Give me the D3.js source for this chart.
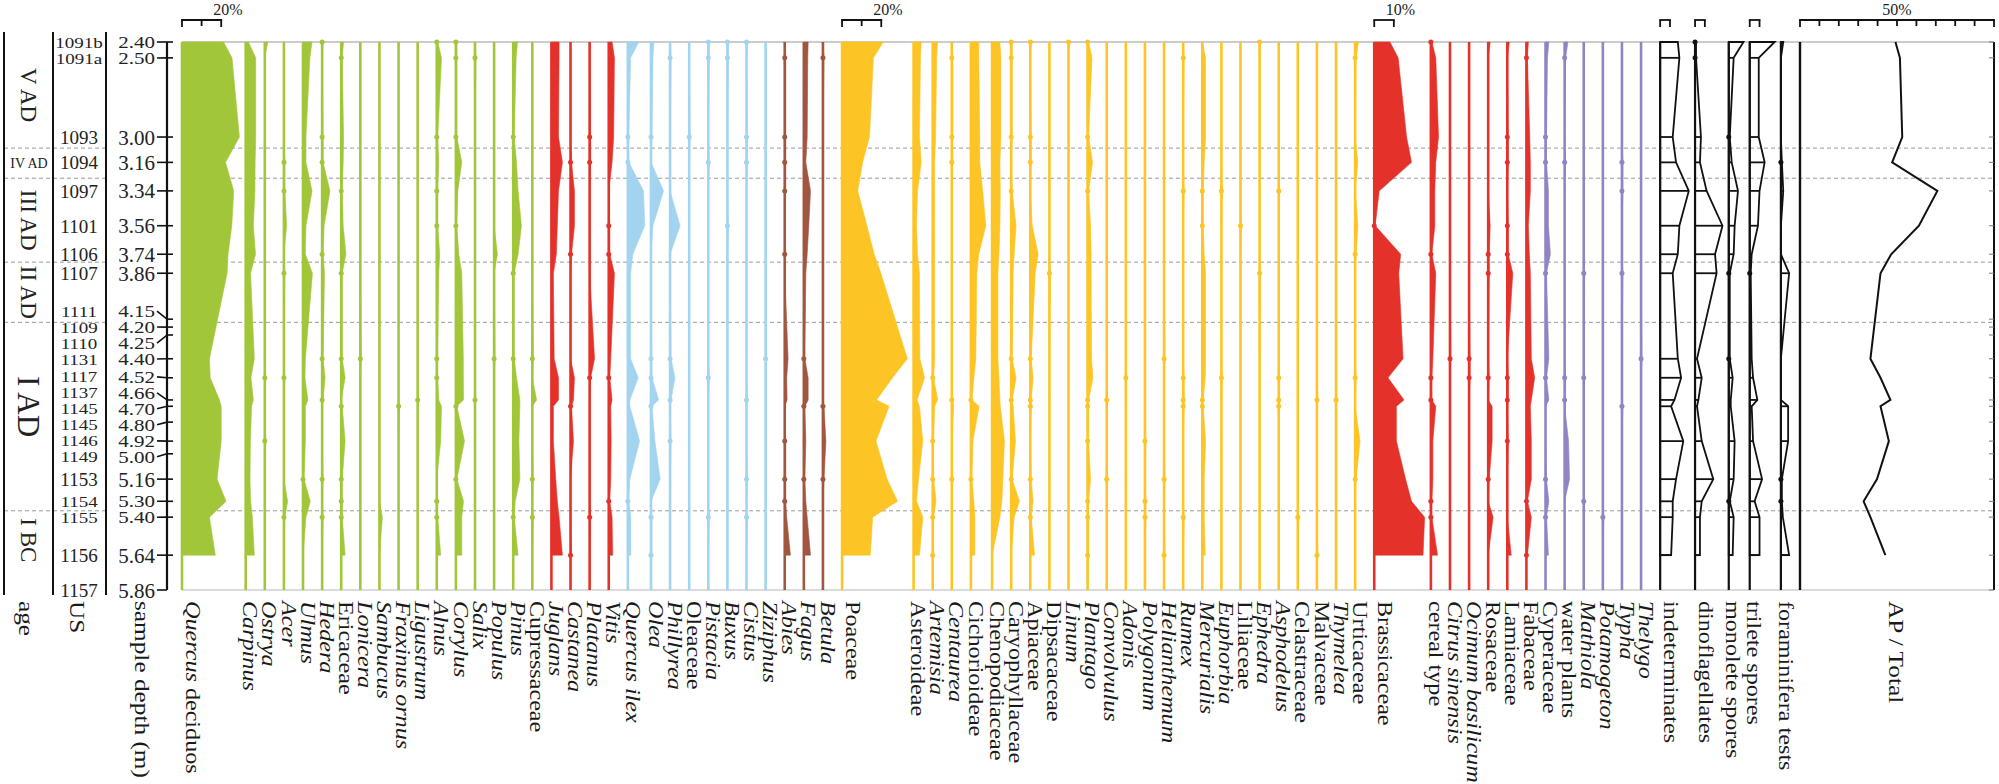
<!DOCTYPE html>
<html><head><meta charset="utf-8">
<script src="https://cdn.jsdelivr.net/npm/d3@7"></script>
<style>
html,body{margin:0;padding:0;background:#fff;overflow:hidden;}
svg{display:block;font-family:"Liberation Serif","Times New Roman",serif;}
</style></head><body>
<svg id="c" width="1999" height="784"></svg>
<script>
// ---------------- DATA ----------------
const sampleDepths = [2.40,2.50,3.00,3.16,3.34,3.56,3.74,3.86,4.40,4.52,4.66,4.70,4.92,5.16,5.30,5.40,5.64];
const depthTicks = [2.40,2.50,3.00,3.16,3.34,3.56,3.74,3.86,4.15,4.20,4.25,4.40,4.52,4.66,4.70,4.80,4.92,5.00,5.16,5.30,5.40,5.64,5.86];
const usLabels = ["1091b","1091a","1093","1094","1097","1101","1106","1107","1111","1109","1110","1131","1117","1137","1145","1145","1146","1149","1153","1154","1155","1156","1157"];
const ageNames = ["V AD","IV AD","III AD","II AD","I AD","I BC"];
const ageBreaks = [2.40,3.07,3.26,3.79,4.17,5.36,5.86];

const greenNames = ["*Quercus* deciduos","*Carpinus*","*Ostrya*","*Acer*","*Ulmus*","*Hedera*","Ericaceae","*Lonicera*","*Sambucus*","*Fraxinus ornus*","*Ligustrum*","*Alnus*","*Corylus*","*Salix*","*Populus*","*Pinus*","Cupressaceae"];
const greenValues = [
 [21.2,25.5,29.3,22.2,26.4,25.4,23.5,23,14,14.4,19.1,20,20,17.9,22.5,14,17],
 [1.4,5.1,5.1,4.8,4.7,3.9,5,2.5,4.4,2.7,3.9,3,2.4,2.2,2.5,3.4,4.4],
 [1.5,0,0,0,0,0,0,0,0,0.5,0,0,0.5,0,0,0,0],
 [0,0,0,0.5,0.5,1.4,0,0.5,0,0.5,0,0,0,0,1.9,0.5,0],
 [4.6,3.5,1.5,1.5,4.6,1.5,1.2,4.8,1.2,1,2.5,1.2,1.2,0.5,3.7,1.5,0],
 [0.5,0,0.5,0.5,4,1,0.5,1.2,0.5,1.5,0.5,0,0,0.5,0,0.5,0],
 [1.2,0.5,1.2,1,0.5,1,2.4,0.5,0.5,2,0,0.5,2,0.5,0.5,0.5,2],
 [0,0,0,0,0,0,0,0,0.5,0,0,0,0,0,0,0,0],
 [0,0,0,0,0,0,0,0,0,0,0,0,0,0,0,1.5,0],
 [0,0,0,0,0,0,0,0,0,0,0,0.5,0,0,0,0,0],
 [0,0,0,0,0,0,0,0,0,0,0.5,0,0,0,0,0,0],
 [0.5,2.4,0.5,1,0.5,0.5,1.5,1,0.5,0.5,1,2.4,2,0,0.5,0.5,2],
 [0.5,0.5,0.5,3,1,0.5,1.5,3,3.8,3.8,3.9,0.5,4.4,0.5,3.9,3,3],
 [0,0.5,0,0,0,0,0,0,0,0,0.5,0,0,0,0,0,0],
 [0,0,0,0,0,0,1.7,0,0.5,0,0,0,0,0,0,0,0],
 [2.2,1.5,0.5,1.7,2.5,4.2,2.5,0.5,0.5,1.7,3.4,3.4,2.9,3.4,1,0.5,2.5],
 [0,0,0,0,0,0,0,0,0.5,0,2.2,0,0,0.5,0,0.5,0]
];
const redTreeNames = ["*Juglans*","*Castanea*","*Platanus*","*Vitis*"];
const redTreeValues = [
 [3.9,3.9,3.6,5.6,3.6,3,2.5,1,1.4,3.6,3.6,1,1,2.2,3,3.9,5.6],
 [0,0,0,0.5,2,2,0.5,0,0,2,1.5,0.5,1.5,0,0,0,0.5],
 [0,0,0.5,0.5,0,0,0,0,2.5,0.5,0,0,0,0,0,0.5,0],
 [1.7,2.9,2.5,1.7,0,0.5,0.5,2.9,1,0.5,1.7,1,1.2,1,0.5,1.7,2]
];
const blueNames = ["*Quercus ilex*","*Olea*","*Phillyrea*","Oleaceae","*Pistacia*","*Buxus*","*Cistus*","*Ziziphus*"];
const blueValues = [
 [5.6,1.4,0.5,0.5,8,8.6,2.5,1.4,1.4,5.3,1,1,6,1,0.5,1.5,1.5],
 [1.5,1,0.5,0,6.4,1,0,0,0.5,0.5,3.9,0.5,2,4.7,0,0.5,0.5],
 [0,0.5,0,0,0,5.1,0,0,0.5,2.5,0.5,0,0.5,0,0,0,0],
 [0,0,0.5,0,0,0,0,0,0,0,0,0,0,0,0,0,0],
 [0.5,0.5,0,0.5,0,0,0,0,0,0.5,0,0,0,0,0,0.5,0],
 [0.5,0.5,0,0,0,0.5,0,0,0,0,0,0,0,0,0,0,0],
 [0.5,0,0.5,0.5,0,0,0,0,0,0,0.5,0,0,0.5,0,0.5,0],
 [0,0,0,0,0,0,0,0,0.5,0,0,0,0,0,0,0,0]
];
const brownNames = ["*Abies*","*Fagus*","*Betula*"];
const brownValues = [
 [0,0.5,0.5,0.5,0.5,0,0.5,0,1.7,1,1.2,0,0.5,0.5,0.5,1,2.9],
 [2.2,2,1.7,1,3.4,2.5,1.7,1,0.5,2.2,2.2,0.5,1,0.5,1,1.7,3.4],
 [0,0.5,0,0,0,0,0,0,0,0,0,0.5,1.5,0.5,0,0,0]
];
const herbNames = ["Poaceae","Asteroideae","*Artemisia*","*Centaurea*","Cichorioideae","Chenopodiaceae","Caryophyllaceae","Apiaceae","Dipsacaceae","*Linum*","*Plantago*","*Convolvulus*","*Adonis*","*Polygonum*","*Helianthemum*","*Rumex*","*Mercurialis*","*Euphorbia*","Liliaceae","*Ephedra*","*Asphodelus*","Celastraceae","Malvaceae","*Thymelea*","Urticaceae"];
const herbValues = [
 [21,16,14,10.5,8,12.7,16.4,19.8,33.3,25.7,17.6,24,17.3,23,28.3,15.6,14.4],
 [3.9,3.5,3,3.9,2,1.5,2,3,3.2,5.6,1.8,3,4.7,2.5,1.5,4.7,3],
 [2.5,2,1.5,1,1,1,1,1,1,0.5,2.5,1,0.5,0.5,1.7,0.5,0.5],
 [0,0.5,0.5,0.5,0,0,0,0,0,0,0.5,1,0,0.5,0,0,0],
 [4,4,4.5,4.5,6,7.6,4,3,2.5,1.5,0.5,4.2,1,0.5,1.5,2,2],
 [4,4.5,4.5,4,4.2,4,3.5,3,3,3.5,4,4.2,6.3,5.5,5,4,0],
 [0.5,0.5,0.5,0,0.5,2.5,1.5,1,0.5,2.5,0.5,1,2.2,0.5,4.2,1.5,0],
 [0.5,0,0.5,0.5,0,1,4,2.5,0.5,1.4,0.5,0.5,0,0.5,1.4,0.5,2.2],
 [0,0,0,0,0,0,0,0.5,0,0,0,0,0,0,0,0,0],
 [0.5,0,0,0,0,0,0,0,0,0,0,0,0,0,0,0,0],
 [0.5,2.2,0.5,2.5,0.5,1.5,1.8,1.8,2,2.7,0.5,0.5,0.5,1.5,0.5,0.5,0.5],
 [0,0,0,0,0,0,0,0,0,0,0.5,0,0,0.5,0,0,0],
 [0,0,0,0,0,0,0,0,0,0.5,0,0,0,0,0,0,0],
 [0,0,0,0,0,0,0,0,0,0,0,0,0.5,0,0.5,0.5,0],
 [0,0,0,0,0,0,0,0,0.5,0,0,0,0,0.5,0,0,0.5],
 [0,0.5,0,0,0.5,0,0,0,0,0.5,0.5,0.5,0,0,0,0.5,0],
 [0,1.7,1.7,1,0.5,0.5,1,1.7,1.7,1.5,0.5,0.5,1.7,1,1,1,1.5],
 [0,0,0,0,0.5,0,0,0,0,0.5,0,0,0,0,0,0,0],
 [0,0,0,0,0,0.5,0,0,0,0,0,0,0,0,0,0,0],
 [0.5,0,0,0,0,0,0,0.5,0,0,0,0,0,0,0,0,0],
 [0,0,0,0,0.5,0,0,0,0,0.5,0.5,0.5,0,0,0,0,0],
 [0,0,0,0,0,0,0,0,0,0,0,0,0,0,0,0.5,0],
 [0,0,0,0,0,0,0,0,0,0,0.5,0,0,0,0,0,0.5],
 [0,0,0,0,0,0,0,0,0,0,0.5,0,0,0,0,0,0],
 [1.7,0.5,0,1.4,0,1.4,0.5,0,0,0.5,0,0,2.5,0.5,0,0,0]
];
const redHerbNames = ["Brassicaceae","cereal type","*Citrus sinensis*","*Ocimum basilicum*","Rosaceae","Lamiaceae","Fabaceae"];
const redHerbValues = [
 [8,12.2,16.5,19,2.5,0.5,13.5,12.5,14.7,7,15.2,11.3,11.3,16,19,25.7,24.9],
 [0.5,2.5,3.9,2.5,2,2,0.5,2.5,1,0.5,0.5,2.5,1,1,0.5,0.5,3.4],
 [0,0,0,0,0,0,0,0,0.5,0,0,0,0,0,0,0,0],
 [0,0,0,0,0,0,0,0,0.5,0.5,0,0,0,0,0,0,0],
 [1,0,0,0,0,1,0.5,0.5,0,0.5,0,2,2,0.5,0,2.5,0],
 [1,0,0.5,0.5,0,0.5,0.5,2.8,0,0.5,0.5,0,0.5,0,0,0,2],
 [1,0.5,1.7,2,2,1,1.5,2,2.5,4.2,2.5,2,2.5,2.5,0.5,2.5,0.5]
];
const purpleNames = ["Cyperaceae","water plants","*Mathiola*","*Potamogeton*","*Typha*","*Thelygo*"];
const purpleValues = [
 [1.7,1,0.5,0.5,1.5,1.5,2.5,0.5,1.7,0.5,1.7,0,0,0.5,1.7,0.5,1.5],
 [1.7,0.5,0,0.5,0,0,0,0,0,0.5,0.5,0,2,2.5,0,0,0],
 [0,0,0,0,0,0,0,0.5,0,0.5,0,0,0,0,0.5,0,0],
 [0,0,0,0,0,0,0,0,0,0,0,0,0,0,0,0.5,0],
 [0,0,0,0.5,0.5,0,0,0.5,0,0,0,0.5,0,0,0,0,0],
 [0,0,0,0,0,0,0,0,0.5,0,0,0,0,0,0,0,0]
];
const otherNames = ["indeterminates","dinoflagellates","monolete spores","trilete spores","foraminifera tests"];
const otherValues = [
 [9,9.8,6.4,8.1,14.6,9.8,9,6.4,9,10.7,7.3,5.6,11.8,8.1,6.4,6.4,5.6],
 [0.5,0.5,3,2.5,5.9,14,10.2,11,1,3.4,1.7,1,3.4,9.3,3.4,2.5,2.5],
 [7.5,2.5,0.5,1.5,4.7,3,2.5,0.5,0.5,2,1,1,3,2.5,0.5,2.5,2],
 [12.7,4.6,4.6,7.6,5,4.2,1,0.5,1,1.7,3.9,1,1.7,6.3,2.5,5,5],
 [1.2,0,0,0.5,1.2,0,0,4.2,0,0,0,3.7,3.7,0.5,0.5,1,4.2]
];
const apTotal = [49.2,51.5,52.7,47.5,70.8,61.3,47,41.5,36.3,41.5,46.6,41.5,45.8,39.7,32.8,36.3,44];

// ---------------- STYLE / LAYOUT ----------------
const COLORS = {green:"#a2c63a", red:"#e4322a", blue:"#a2d4ef", brown:"#a0563f", yellow:"#fdc425", purple:"#9284c3", black:"#111"};
const groups = [
  {names:greenNames, values:greenValues, color:COLORS.green, kind:"fill"},
  {names:redTreeNames, values:redTreeValues, color:COLORS.red, kind:"fill"},
  {names:blueNames, values:blueValues, color:COLORS.blue, kind:"fill"},
  {names:brownNames, values:brownValues, color:COLORS.brown, kind:"fill"},
  {names:herbNames, values:herbValues, color:COLORS.yellow, kind:"fill"},
  {names:redHerbNames, values:redHerbValues, color:COLORS.red, kind:"fill"},
  {names:purpleNames, values:purpleValues, color:COLORS.purple, kind:"fill"},
  {names:otherNames, values:otherValues, color:COLORS.black, kind:"outline"}
];
const TOP = 42, BOTTOM = 590;
const CHART_X0 = 182, CHART_X1 = 1800, AP_X1 = 1994;
const LABEL_Y = 601;

const svg = d3.select("#c");
const y = d3.scaleLinear().domain([2.40, 5.86]).range([TOP, BOTTOM]);

// column layout
const cols = [];
groups.forEach(g => g.names.forEach((n,i) => {
  const vals = g.values[i];
  const slot = Math.max(9.75, d3.max(vals) + 3.2);
  cols.push({name:n, vals, color:g.color, kind:g.kind, slot});
}));
const totalSlot = d3.sum(cols, c => c.slot);
const pxPer = (CHART_X1 - CHART_X0) / totalSlot;
let acc = CHART_X0;
cols.forEach(c => { c.x = acc; c.scale = d3.scaleLinear().domain([0,100]).range([acc, acc + 100*pxPer]); acc += c.slot*pxPer; });
const colByName = n => cols.find(c => c.name === n);

// ---------------- BACKGROUND LINES ----------------
const boundaries = ageBreaks.slice(1,-1);
const dashG = svg.append("g").attr("stroke","#9a9a9a").attr("stroke-width",1).attr("stroke-dasharray","4,3");
boundaries.forEach(b => {
  dashG.append("line").attr("x1",4).attr("x2",106).attr("y1",y(b)).attr("y2",y(b));
  dashG.append("line").attr("x1",CHART_X0).attr("x2",AP_X1).attr("y1",y(b)).attr("y2",y(b));
});
svg.append("line").attr("x1",CHART_X0).attr("x2",AP_X1).attr("y1",TOP).attr("y2",TOP).attr("stroke","#999").attr("stroke-width",1);
svg.append("line").attr("x1",CHART_X0).attr("x2",AP_X1).attr("y1",BOTTOM).attr("y2",BOTTOM).attr("stroke","#cfcfcf").attr("stroke-width",1.5);

// ---------------- COLUMNS ----------------
function addRotLabel(x, yy, name, size, stretch){
  const t = svg.append("text").attr("transform",`translate(${x},${yy}) rotate(90) scale(${stretch||1.15},1)`).attr("dy","0.35em")
    .attr("font-size",size).attr("fill","#1a1a1a");
  name.split(/(\*[^*]+\*)/).filter(s=>s.length).forEach(s=>{
    if(s.startsWith("*")) t.append("tspan").attr("font-style","italic").text(s.slice(1,-1));
    else t.append("tspan").text(s);
  });
}
const pts = vals => sampleDepths.map((d,i)=>({d, v:vals[i]}));
cols.forEach(c => {
  const g = svg.append("g");
  const data = pts(c.vals);
  const area = d3.area().x0(c.x).x1(p => c.scale(p.v)).y(p => y(p.d));
  if(c.kind === "fill"){
    g.append("path").attr("d", area(data)).attr("fill", c.color).attr("stroke", c.color).attr("stroke-width",0.6);
    g.append("line").attr("x1",c.x).attr("x2",c.x).attr("y1",TOP).attr("y2",BOTTOM).attr("stroke",c.color).attr("stroke-width",2.6);
  } else {
    g.append("line").attr("x1",c.x).attr("x2",c.x).attr("y1",TOP).attr("y2",BOTTOM).attr("stroke",c.color).attr("stroke-width",2.2);
    g.append("path").attr("d", area(data)).attr("fill","none").attr("stroke",c.color).attr("stroke-width",1.8).attr("stroke-linejoin","miter");
    data.filter(p => p.v >= 1).forEach(p => {
      g.append("line").attr("x1",c.x).attr("x2",c.scale(p.v)).attr("y1",y(p.d)).attr("y2",y(p.d)).attr("stroke",c.color).attr("stroke-width",1.8);
    });
  }
  data.filter(p => p.v > 0 && p.v < 1).forEach(p => {
    g.append("circle").attr("cx",c.x).attr("cy",y(p.d)).attr("r",2.5).attr("fill",c.color);
  });
  addRotLabel(c.x + (c.slot > 16.5 ? 11 : 5), LABEL_Y, c.name, 21);
});

// ---------------- AP / TOTAL ----------------
const ap = d3.scaleLinear().domain([0,100]).range([CHART_X1, AP_X1]);
svg.append("line").attr("x1",CHART_X1).attr("x2",CHART_X1).attr("y1",TOP).attr("y2",BOTTOM).attr("stroke","#111").attr("stroke-width",2.4);
svg.append("line").attr("x1",AP_X1).attr("x2",AP_X1).attr("y1",TOP).attr("y2",BOTTOM).attr("stroke","#111").attr("stroke-width",2);
depthTicks.forEach(d => svg.append("line").attr("x1",AP_X1-5).attr("x2",AP_X1).attr("y1",y(d)).attr("y2",y(d)).attr("stroke","#777").attr("stroke-width",1));
svg.append("path").attr("d", d3.line().x(p=>ap(p.v)).y(p=>y(p.d))(pts(apTotal)))
  .attr("fill","none").attr("stroke","#111").attr("stroke-width",2).attr("stroke-linejoin","miter");
addRotLabel(ap(50), LABEL_Y, "AP / Total", 22);

// ---------------- SCALE BARS ----------------
function bar(x0, x1, n, label, centered){
  const g = svg.append("g").attr("stroke","#111").attr("stroke-width",1.8).attr("fill","none");
  g.append("line").attr("x1",x0-0.9).attr("x2",x1+0.9).attr("y1",20).attr("y2",20);
  for(let i=0;i<=n;i++){ const xx = x0+(x1-x0)*i/n; g.append("line").attr("x1",xx).attr("x2",xx).attr("y1",20).attr("y2",i===0||i===n?27:26); }
  if(label){
    svg.append("text").attr("x", centered ? (x0+x1)/2 : x1-8).attr("y",15).attr("font-size",16)
      .attr("text-anchor", centered ? "middle" : "start").attr("fill","#222").text(label);
  }
}
[["*Quercus* deciduos",20,2,"20%"],["Poaceae",20,2,"20%"],["Brassicaceae",10,1,"10%"],
 ["indeterminates",5,1,null],["dinoflagellates",5,1,null],["trilete spores",5,1,null]].forEach(([n,p,k,l]) => {
  const c = colByName(n); bar(c.scale(0), c.scale(p), k, l, false);
});
bar(ap(0), ap(100), 10, "50%", true);

// ---------------- LEFT COLUMNS ----------------
const lineG = svg.append("g").attr("stroke","#111").attr("stroke-width",2);
[4,53,106].forEach(x => lineG.append("line").attr("x1",x).attr("x2",x).attr("y1",32).attr("y2",595));

// age labels
ageNames.forEach((a,i) => {
  const yc = (y(ageBreaks[i]) + y(ageBreaks[i+1]))/2;
  if(a === "IV AD"){
    svg.append("text").attr("x",29).attr("y",yc).attr("dy","0.35em").attr("text-anchor","middle").attr("font-size",14).attr("fill","#222").text(a);
  } else {
    svg.append("text").attr("transform",`translate(29,${yc - (a==="I AD"||a==="I BC"?10:0)}) rotate(90)`).attr("text-anchor","middle").attr("dy","0.35em")
      .attr("font-size", a === "I AD" ? 31 : 23).attr("fill","#222").text(a);
  }
});

// depth axis with spread labels
const AXIS_X = 167;
const tickY = depthTicks.map(d => y(d));
const labY = tickY.slice();
const GAP = 16;
for(let it=0; it<400; it++){
  let moved = false;
  for(let i=0;i<labY.length-1;i++){
    const dd = labY[i+1]-labY[i];
    if(dd < GAP - 0.01){
      const m = GAP - dd; moved = true;
      if(i === 0){ labY[i+1] += m; }
      else if(i+1 === labY.length-1){ labY[i] -= m; }
      else { labY[i] -= m/2; labY[i+1] += m/2; }
    }
  }
  if(!moved) break;
}
const squeeze = labY.map((v,i) => {
  const gaps = [];
  if(i>0) gaps.push(v - labY[i-1]);
  if(i<labY.length-1) gaps.push(labY[i+1]-v);
  return Math.min(1, d3.min(gaps)/19.5);
});
svg.append("line").attr("x1",AXIS_X).attr("x2",AXIS_X).attr("y1",TOP).attr("y2",BOTTOM).attr("stroke","#111").attr("stroke-width",2.2);
depthTicks.forEach((d,i) => {
  svg.append("line").attr("x1",157).attr("y1",labY[i]).attr("x2",AXIS_X).attr("y2",tickY[i]).attr("stroke","#111").attr("stroke-width",1.6);
  if(i < depthTicks.length-1) svg.append("line").attr("x1",AXIS_X).attr("x2",AXIS_X+6).attr("y1",tickY[i]).attr("y2",tickY[i]).attr("stroke","#111").attr("stroke-width",1.6);
  svg.append("text").attr("transform",`translate(155,${labY[i]}) scale(1,${squeeze[i]})`).attr("dy","0.36em").attr("text-anchor","end").attr("font-size",21).attr("fill","#222").text(d.toFixed(2));
  svg.append("text").attr("transform",`translate(79,${labY[i]}) scale(1,${squeeze[i]})`).attr("dy","0.36em").attr("text-anchor","middle").attr("font-size",19).attr("fill","#222").text(usLabels[i]);
});

// bottom left labels
addRotLabel(27, LABEL_Y, "age", 22);
addRotLabel(78, LABEL_Y, "US", 22);
addRotLabel(143, LABEL_Y, "sample depth (m)", 22);
</script>
</body></html>
